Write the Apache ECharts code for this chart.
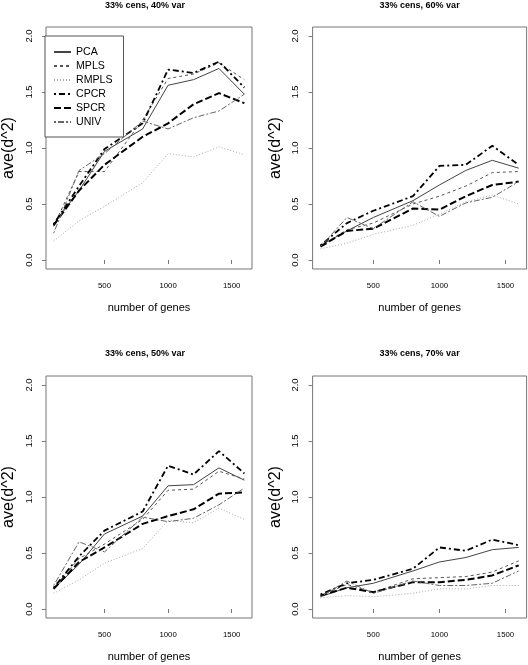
<!DOCTYPE html>
<html>
<head>
<meta charset="utf-8">
<script src="https://cdn.jsdelivr.net/npm/echarts@6/dist/echarts.min.js"></script>
<style>
html,body{margin:0;padding:0;background:#fff;}
#chart{width:528px;height:665px;}
</style>
</head>
<body>
<div id="chart"></div>
<script>
// x values (number of genes)
const genes = [100, 300, 500, 800, 1000, 1200, 1400, 1600];
const methods = ['PCA', 'MPLS', 'RMPLS', 'CPCR', 'SPCR', 'UNIV'];
const panelTitles = ['33% cens, 40% var', '33% cens, 60% var', '33% cens, 50% var', '33% cens, 70% var'];
const xTicks = [500, 1000, 1500];
const yTicks = [0, 0.5, 1, 1.5, 2];

// Panel 1: 33% cens, 40% var
const pca40   = [0.32, 0.62, 0.97, 1.17, 1.56, 1.61, 1.71, 1.48];
const mpls40  = [0.30, 0.79, 0.79, 1.25, 1.62, 1.66, 1.76, 1.61];
const rmpls40 = [0.17, 0.35, 0.48, 0.69, 0.95, 0.92, 1.01, 0.94];
const cpcr40  = [0.32, 0.66, 0.99, 1.22, 1.70, 1.67, 1.77, 1.54];
const spcr40  = [0.31, 0.62, 0.85, 1.10, 1.22, 1.39, 1.49, 1.40];
const univ40  = [0.24, 0.80, 0.95, 1.24, 1.17, 1.27, 1.33, 1.48];

// Panel 2: 33% cens, 60% var
const pca60   = [0.13, 0.26, 0.38, 0.53, 0.67, 0.80, 0.89, 0.82];
const mpls60  = [0.13, 0.27, 0.33, 0.50, 0.57, 0.66, 0.78, 0.79];
const rmpls60 = [0.10, 0.15, 0.23, 0.31, 0.41, 0.52, 0.58, 0.50];
const cpcr60  = [0.13, 0.33, 0.44, 0.57, 0.84, 0.85, 1.02, 0.85];
const spcr60  = [0.12, 0.26, 0.28, 0.46, 0.45, 0.57, 0.67, 0.70];
const univ60  = [0.12, 0.38, 0.28, 0.52, 0.39, 0.51, 0.56, 0.70];

// Panel 3: 33% cens, 50% var
const pca50   = [0.18, 0.40, 0.67, 0.83, 1.10, 1.11, 1.26, 1.15];
const mpls50  = [0.19, 0.45, 0.58, 0.80, 1.06, 1.07, 1.23, 1.16];
const rmpls50 = [0.14, 0.26, 0.41, 0.54, 0.79, 0.77, 0.90, 0.80];
const cpcr50  = [0.19, 0.47, 0.70, 0.87, 1.28, 1.20, 1.41, 1.21];
const spcr50  = [0.18, 0.42, 0.55, 0.76, 0.83, 0.89, 1.03, 1.04];
const univ50  = [0.21, 0.60, 0.51, 0.82, 0.78, 0.81, 0.93, 1.08];

// Panel 4: 33% cens, 70% var
const pca70   = [0.11, 0.19, 0.23, 0.34, 0.42, 0.46, 0.53, 0.55];
const mpls70  = [0.12, 0.22, 0.15, 0.27, 0.28, 0.29, 0.33, 0.43];
const rmpls70 = [0.10, 0.12, 0.11, 0.14, 0.18, 0.18, 0.21, 0.21];
const cpcr70  = [0.13, 0.23, 0.26, 0.36, 0.55, 0.52, 0.62, 0.57];
const spcr70  = [0.12, 0.19, 0.15, 0.24, 0.24, 0.26, 0.30, 0.39];
const univ70  = [0.11, 0.25, 0.14, 0.25, 0.21, 0.21, 0.23, 0.34];

const panelData = [
  [pca40, mpls40, rmpls40, cpcr40, spcr40, univ40],
  [pca60, mpls60, rmpls60, cpcr60, spcr60, univ60],
  [pca50, mpls50, rmpls50, cpcr50, spcr50, univ50],
  [pca70, mpls70, rmpls70, cpcr70, spcr70, univ70]
];

const styles = [
  {color: '#444', width: 1, type: 'solid'},
  {color: '#555', width: 1, type: [3, 3]},
  {color: '#aaa', width: 1, type: [1, 2]},
  {color: '#000', width: 1.8, type: [2, 3, 6, 3]},
  {color: '#000', width: 2, type: [7, 3]},
  {color: '#666', width: 1, type: [2, 2, 6, 2]}
];

const FONT = "'Liberation Sans', Arial, sans-serif";

const grids = [
  {left: 38, top: 27, width: 214, height: 242},
  {left: 312.6, top: 27, width: 214, height: 242},
  {left: 38, top: 376, width: 214, height: 242},
  {left: 312.6, top: 376, width: 214, height: 242}
];

const titleTops = [1, 1, 349, 349];

const option = {
  animation: false,
  backgroundColor: '#fff',
  title: grids.map((g, i) => ({
    text: panelTitles[i],
    left: g.left + g.width / 2,
    top: titleTops[i],
    textAlign: 'center',
    padding: 0,
    textStyle: {fontFamily: FONT, fontWeight: 'bold', fontSize: 9, color: '#000'}
  })),
  legend: {
    data: methods,
    orient: 'vertical',
    left: 45,
    top: 36,
    padding: [9, 11, 8, 8],
    itemWidth: 17,
    itemHeight: 14,
    itemGap: 0,
    borderColor: '#555',
    borderWidth: 1,
    backgroundColor: '#fff',
    itemStyle: {color: 'transparent', borderColor: 'transparent', borderWidth: 0},
    textStyle: {fontFamily: FONT, fontSize: 10.6, color: '#000', lineHeight: 14}
  },
  grid: grids.map(g => Object.assign({show: true, borderColor: '#777', borderWidth: 1, backgroundColor: 'transparent'}, g)),
  xAxis: grids.map((g, i) => ({
    type: 'value',
    gridIndex: i,
    min: 40,
    max: 1660,
    name: 'number of genes',
    nameLocation: 'middle',
    nameGap: 33,
    nameTextStyle: {fontFamily: FONT, fontSize: 11, color: '#000'},
    axisLine: {show: false},
    axisTick: {show: true, customValues: xTicks, length: 4, inside: false, lineStyle: {color: '#777'}},
    axisLabel: {customValues: xTicks, margin: 13, fontFamily: FONT, fontSize: 7.8, color: '#000',
      formatter: v => String(Math.round(v))},
    splitLine: {show: false}
  })),
  yAxis: grids.map((g, i) => ({
    type: 'value',
    gridIndex: i,
    min: -0.08,
    max: 2.08,
    name: 'ave(d^2)',
    nameLocation: 'middle',
    nameGap: 29,
    nameRotate: 90,
    nameTextStyle: {fontFamily: FONT, fontSize: 16, color: '#000'},
    axisLine: {show: false},
    axisTick: {show: true, customValues: yTicks, length: 4, inside: false, lineStyle: {color: '#777'}},
    axisLabel: {customValues: yTicks, rotate: 90, margin: 12, fontFamily: FONT, fontSize: 9.5, color: '#000',
      formatter: v => Number(v).toFixed(1)},
    splitLine: {show: false}
  })),
  series: []
};

panelData.forEach((arrs, p) => {
  arrs.forEach((vals, m) => {
    option.series.push({
      type: 'line',
      name: methods[m],
      xAxisIndex: p,
      yAxisIndex: p,
      data: genes.map((x, k) => [x, vals[k]]),
      symbol: 'none',
      showSymbol: false,
      silent: true,
      lineStyle: {color: styles[m].color, width: styles[m].width, type: styles[m].type},
      itemStyle: {color: styles[m].color},
      z: 2
    });
  });
});

const chart = echarts.init(document.getElementById('chart'), null, {renderer: 'canvas'});
chart.setOption(option);
</script>
</body>
</html>
